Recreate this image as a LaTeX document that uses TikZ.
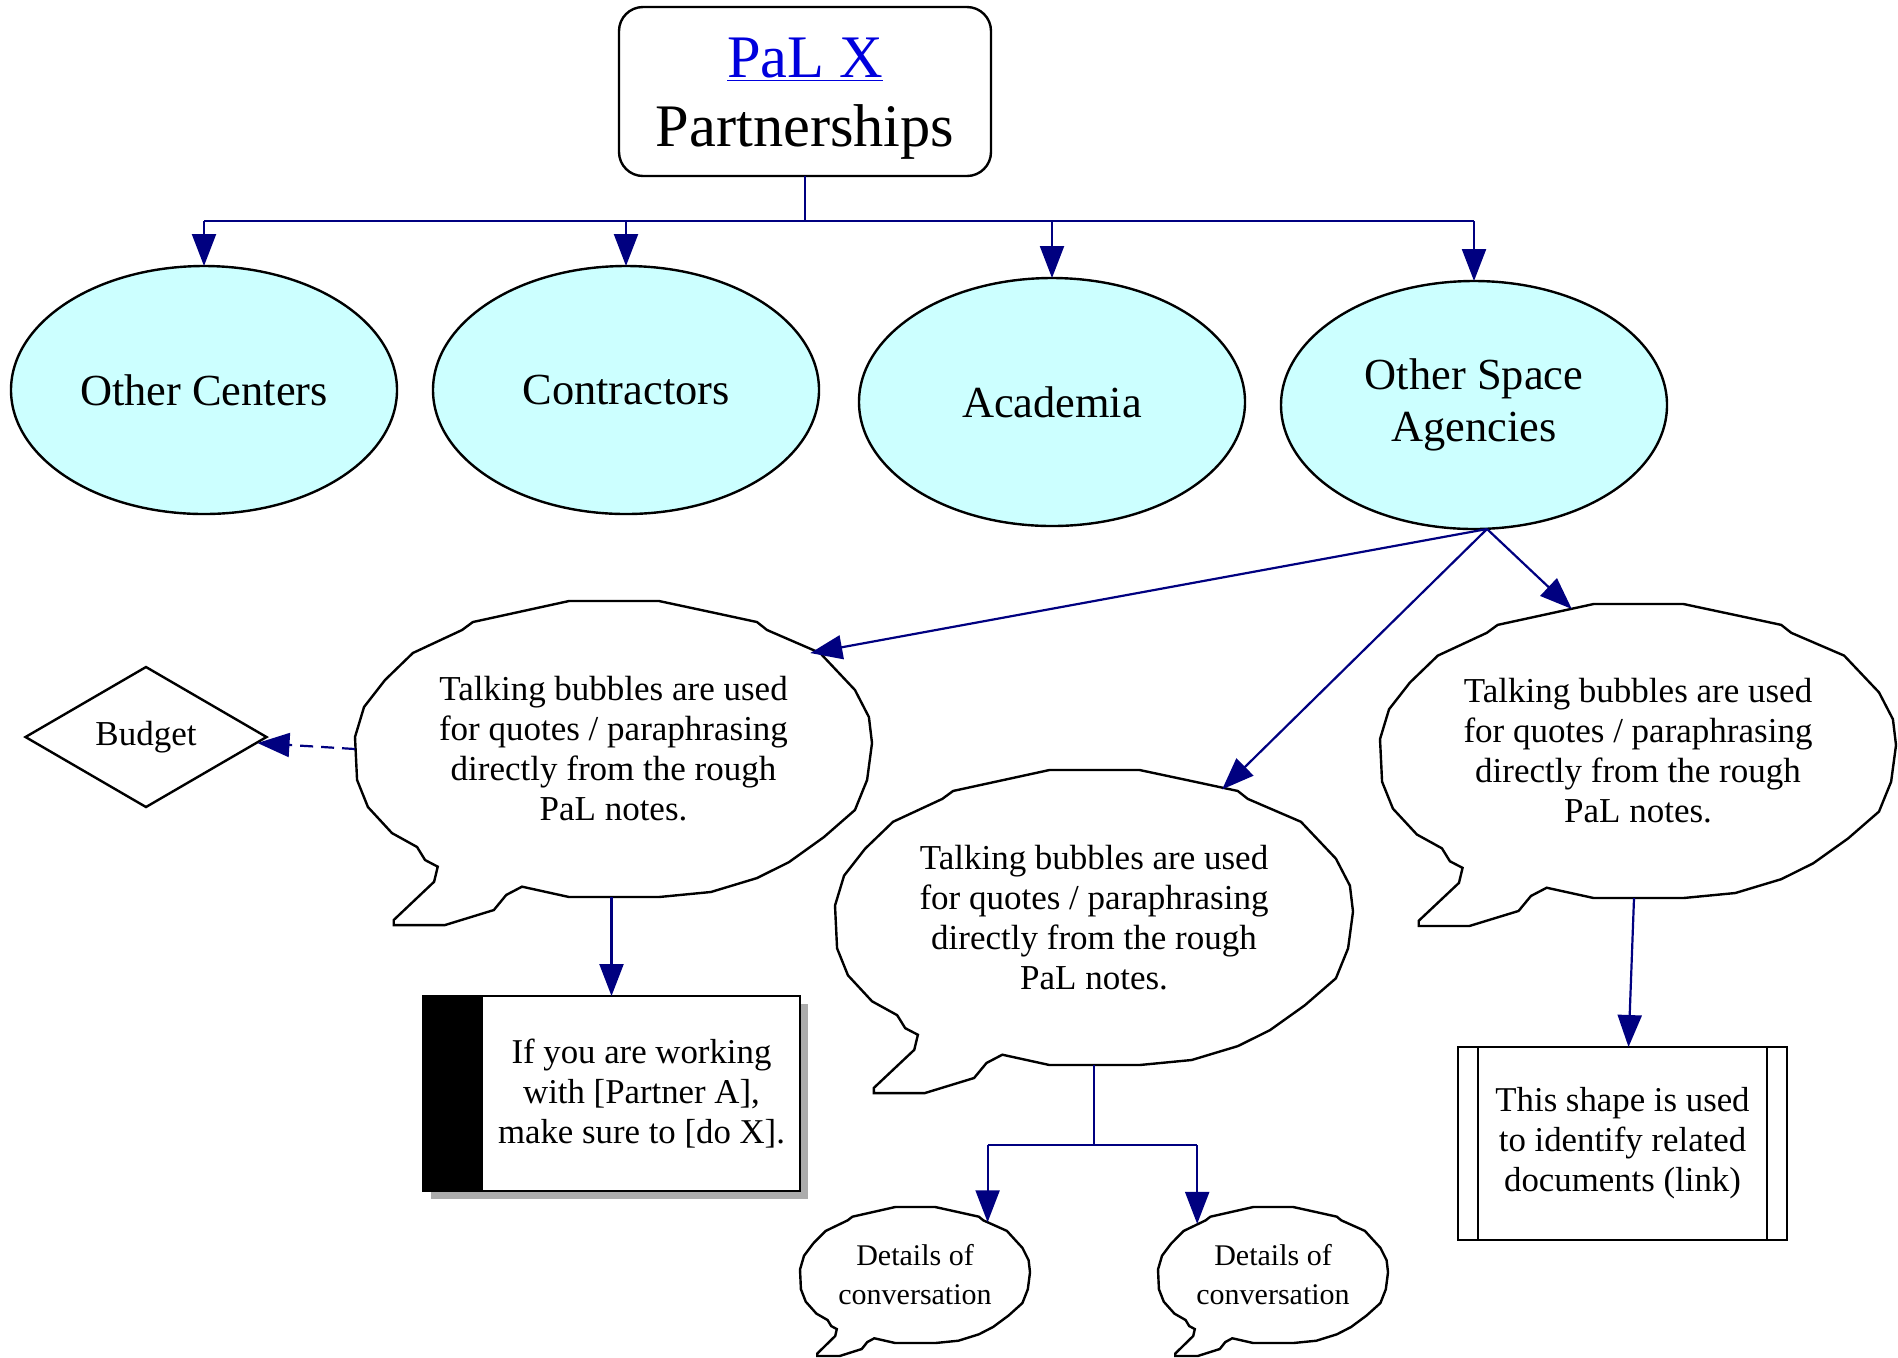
\documentclass[tikz,border=0pt]{standalone}
\usepackage{fontspec}
\setmainfont{Liberation Serif}
\usepackage{tikz}
\usetikzlibrary{arrows.meta,shapes,shadows}
\definecolor{navyline}{RGB}{0,0,128}
\definecolor{linkblue}{RGB}{0,0,221}
\definecolor{partnercyan}{RGB}{204,255,255}
\newcommand{\borderw}{1.2pt}
\newcommand{\linkw}{1.1pt}
% talking bubble: [text style] name, centre, x radius, y radius, text
\newcommand{\talkbubble}[6][talktext]{%
  \begin{scope}[shift={#3}, xscale=#4, yscale=#5]
    \draw[talkline] (0.176,-1) -- (0.393,-0.919) -- (0.555,-0.858) -- (0.594,-0.804) -- (0.799,-0.649)
      -- (0.934,-0.399) -- (0.988,-0.216) -- (1,-0.04) -- (0.981,0.209) -- (0.934,0.412) -- (0.814,0.595)
      -- (0.679,0.764) -- (0.555,0.872) -- (0.377,0.966) -- (0.176,1) -- (-0.172,1) -- (-0.354,0.93)
      -- (-0.415,0.986) -- (-0.463,1.088) -- (-0.653,1.19) -- (-0.85,1.19) -- (-0.85,1.155) -- (-0.694,0.897)
      -- (-0.68,0.795) -- (-0.729,0.75) -- (-0.76,0.662) -- (-0.857,0.568) -- (-0.95,0.392) -- (-0.992,0.209)
      -- (-1,-0.081) -- (-0.965,-0.284) -- (-0.884,-0.466) -- (-0.776,-0.649) -- (-0.586,-0.804)
      -- (-0.544,-0.858) -- (-0.172,-1) -- cycle;
  \end{scope}
  \node[#1, minimum width=#4pt, minimum height=#5pt] (#2) at #3 {#6};
}

\begin{document}
\begin{tikzpicture}[x=0.5pt, y=-0.5pt,
    every node/.style={inner sep=0pt, outer sep=0pt},
    partner/.style={ellipse, draw, line width=\borderw, fill=partnercyan, minimum width=193pt,
      minimum height=124pt, align=center, font=\fontsize{22.2}{26}\selectfont},
    talkline/.style={draw, line width=\borderw, fill=white},
    talktext/.style={ellipse, align=center, font=\fontsize{17.5}{20}\selectfont},
    smalltalk/.style={talktext, font=\fontsize{15}{19.5}\selectfont},
    boxtext/.style={align=center, font=\fontsize{17.4}{20}\selectfont},
    link/.style={draw=navyline, line width=\linkw},
    arrow/.style={link, -{Triangle[length=16pt,width=12pt]}}]
  %\draw[help lines] (0,0) grid (1898,1357);
  \useasboundingbox (0,0) rectangle (1898,1357);

  \node[rectangle, rounded corners=12pt, draw, line width=\borderw, minimum width=186pt,
    minimum height=84.5pt] (title) at (805,91.5) {};
  \node[align=center, font=\fontsize{30.2}{34.5}\selectfont] (titletext) at ([yshift=-3.5pt]title.center)
    {\textcolor{linkblue}{\underline{PaL X}}\\Partnerships};

  \node[partner] (centers) at (204,390) {Other Centers};
  \node[partner] (contractors) at (626,390) {Contractors};
  \node[partner] (academia) at (1052,402) {Academia};
  \node[partner] (agencies) at (1474,405) {Other Space\\Agencies};

  \talkbubble{quoteA}{(613.5,749)}{258.5}{148}{Talking bubbles are used\\for quotes / paraphrasing\\directly from the rough\\PaL notes.}
  \talkbubble{quoteB}{(1094,917.5)}{259}{147.5}{Talking bubbles are used\\for quotes / paraphrasing\\directly from the rough\\PaL notes.}
  \talkbubble{quoteC}{(1638,751)}{258}{147}{Talking bubbles are used\\for quotes / paraphrasing\\directly from the rough\\PaL notes.}
  \talkbubble[smalltalk]{detailA}{(915,1275)}{115}{68}{Details of\\conversation}
  \talkbubble[smalltalk]{detailB}{(1273,1275)}{115}{68}{Details of\\conversation}

  \node[diamond, draw, line width=\borderw, minimum width=120.5pt, minimum height=70pt,
    font=\fontsize{17.5}{20}\selectfont] (budget) at (146,737) {Budget};

  \node[draw, line width=\borderw, fill=white, minimum width=188.5pt, minimum height=97.5pt,
    drop shadow={shadow xshift=4pt, shadow yshift=-4pt, fill=gray!65, opacity=1}]
    (partnerbox) at (611.5,1093.5) {};
  \fill (partnerbox.north west) rectangle ([xshift=30pt]partnerbox.south west);
  \node[boxtext] (partnertext) at ([xshift=15pt]partnerbox.center)
    {If you are working\\with [Partner A],\\make sure to [do X].};

  \node[draw, line width=\borderw, minimum width=164.5pt, minimum height=96.5pt, boxtext]
    (docbox) at (1622.5,1143.5) {This shape is used\\to identify related\\documents (link)};
  \draw[line width=\borderw] ([xshift=10pt]docbox.north west) -- ([xshift=10pt]docbox.south west)
    ([xshift=-10pt]docbox.north east) -- ([xshift=-10pt]docbox.south east);

  % connectors
  \draw[link] (title.south) -- ++(0,45) coordinate (bus);
  \draw[link] (centers.north |- bus) -- (agencies.north |- bus);
  \foreach \p in {centers,contractors,academia,agencies}
    \draw[arrow] (\p.north |- bus) -- (\p.north);

  \coordinate (fan) at ([xshift=6.5pt]agencies.south);
  \draw[arrow] (fan) -- (quoteA.26);
  \draw[arrow] (fan) -- (quoteB.45);
  \draw[arrow] (fan) -- (quoteC.115);

  \draw[arrow, dash pattern=on 6.5pt off 4pt] (quoteA.west) -- ([xshift=-4.5pt,yshift=-3pt]budget.east);
  \draw[arrow] (partnerbox.north |- quoteA.south) -- (partnerbox.north);
  \draw[arrow] ([xshift=-2pt]quoteC.south) -- ([xshift=3pt]docbox.north);

  \draw[link] (quoteB.south) -- ++(0,80) coordinate (split);
  \draw[link] (detailA.36 |- split) -- (detailB.146 |- split);
  \draw[arrow] (detailA.36 |- split) -- (detailA.36);
  \draw[arrow] (detailB.146 |- split) -- (detailB.146);
\end{tikzpicture}
\end{document}
